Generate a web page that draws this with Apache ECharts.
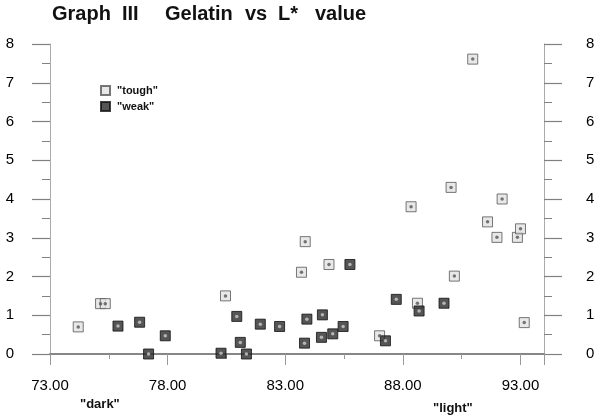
<!DOCTYPE html>
<html>
<head>
<meta charset="utf-8">
<script src="https://cdn.jsdelivr.net/npm/echarts@6/dist/echarts.min.js"></script>
<style>
html,body{margin:0;padding:0;background:#fff;}
#chart{width:600px;height:416px;}
</style>
</head>
<body>
<div id="chart"></div>
<script>
// ---- data ----
var toughX = [74.2, 75.15, 75.35, 80.46, 83.69, 83.85, 84.86, 87.01, 88.35, 88.62, 90.05, 90.19, 90.97, 91.60, 92.0, 92.22, 92.87, 93.0, 93.16];
var toughY = [0.70, 1.30, 1.30, 1.50, 2.11, 2.90, 2.31, 0.47, 3.80, 1.31, 4.30, 2.01, 7.61, 3.41, 3.01, 4.00, 3.01, 3.23, 0.81];
var weakX = [75.89, 76.81, 77.19, 77.90, 80.27, 80.94, 81.09, 81.35, 81.94, 82.76, 83.82, 83.92, 84.54, 84.58, 85.02, 85.46, 85.75, 87.26, 87.72, 88.69, 89.75];
var weakY = [0.72, 0.82, 0.00, 0.47, 0.02, 0.97, 0.30, 0.00, 0.77, 0.71, 0.28, 0.90, 0.43, 1.01, 0.52, 0.71, 2.31, 0.34, 1.41, 1.11, 1.31];
var seriesNames = ['"tough"', '"weak"'];
var xTickLabels = ['73.00', '78.00', '83.00', '88.00', '93.00'];
var titleWords = ['Graph', 'III', 'Gelatin', 'vs', 'L*', 'value'];
var endLabels = ['"dark"', '"light"'];

function pairs(xs, ys) { return xs.map(function (x, i) { return [x, ys[i]]; }); }
var toughData = pairs(toughX, toughY);
var weakData = pairs(weakX, weakY);

var FONT = '"Liberation Sans", Arial, sans-serif';
var axisColor = '#808080';

function yAxisDef(pos, margin) {
  return {
    type: 'value', position: pos, min: 0, max: 8, interval: 1,
    axisLine: { show: true, lineStyle: { color: '#aaa', width: 1 } },
    axisTick: { show: true, length: 18, lineStyle: { color: axisColor, width: 1.2 } },
    minorTick: { show: true, splitNumber: 2, length: 8, lineStyle: { color: axisColor, width: 1 } },
    splitLine: { show: false },
    axisLabel: { margin: margin, fontFamily: FONT, fontSize: 15, color: '#000' }
  };
}

var chart = echarts.init(document.getElementById('chart'));
var titleX = [52, 122, 165, 245, 278, 315];
chart.setOption({
  animation: false,
  backgroundColor: '#fff',
  grid: { left: 50, right: 56, top: 44, bottom: 62 },
  xAxis: [{
    type: 'value', min: 73, max: 94, interval: 5,
    axisLine: { show: true, onZero: false, lineStyle: { color: axisColor, width: 1.5 } },
    axisTick: { show: true, length: 11, lineStyle: { color: '#999' } },
    minorTick: { show: true, splitNumber: 2, length: 5, lineStyle: { color: '#999' } },
    splitLine: { show: false },
    axisLabel: {
      margin: 24, fontFamily: FONT, fontSize: 15, color: '#000',
      formatter: function (v) { var s = v.toFixed(2); return xTickLabels.indexOf(s) >= 0 ? s : ''; }
    }
  }, {
    type: 'value', position: 'top', min: 73, max: 94,
    axisLine: { show: true, lineStyle: { color: axisColor, width: 1.5 } },
    axisTick: { show: false }, axisLabel: { show: false }, splitLine: { show: false }
  }],
  yAxis: [yAxisDef('left', 36), yAxisDef('right', 42)],
  legend: {
    data: seriesNames, orient: 'vertical', left: 95, top: 80,
    itemWidth: 9, itemHeight: 9, itemGap: 5,
    textStyle: { fontFamily: FONT, fontSize: 11, fontWeight: 'bold', color: '#111', padding: [0, 0, 0, 2] }
  },
  graphic: titleWords.map(function (w, i) {
    return { type: 'text', left: titleX[i], top: 4, style: { text: w, font: 'bold 20px ' + FONT, fill: '#111' } };
  }).concat([
    { type: 'text', left: 80, top: 398, style: { text: endLabels[0], font: 'bold 13px ' + FONT, fill: '#111' } },
    { type: 'text', left: 433, top: 402, style: { text: endLabels[1], font: 'bold 13px ' + FONT, fill: '#111' } }
  ]),
  series: [{
    name: seriesNames[0], type: 'scatter', data: toughData, symbol: 'rect', symbolSize: 10,
    itemStyle: { color: '#e2e2e2', borderColor: '#555', borderWidth: 1 }, z: 3
  }, {
    name: seriesNames[1], type: 'scatter', data: weakData, symbol: 'rect', symbolSize: 10,
    itemStyle: { color: '#2a2a2a', borderColor: '#111', borderWidth: 1 }, z: 3
  }, {
    name: 'tough-dot', type: 'scatter', data: toughData, symbol: 'circle', symbolSize: 3.5,
    itemStyle: { color: '#555' }, silent: true, z: 4
  }, {
    name: 'weak-dot', type: 'scatter', data: weakData, symbol: 'circle', symbolSize: 3.5,
    itemStyle: { color: '#ccc' }, silent: true, z: 4
  }]
});
</script>
</body>
</html>
